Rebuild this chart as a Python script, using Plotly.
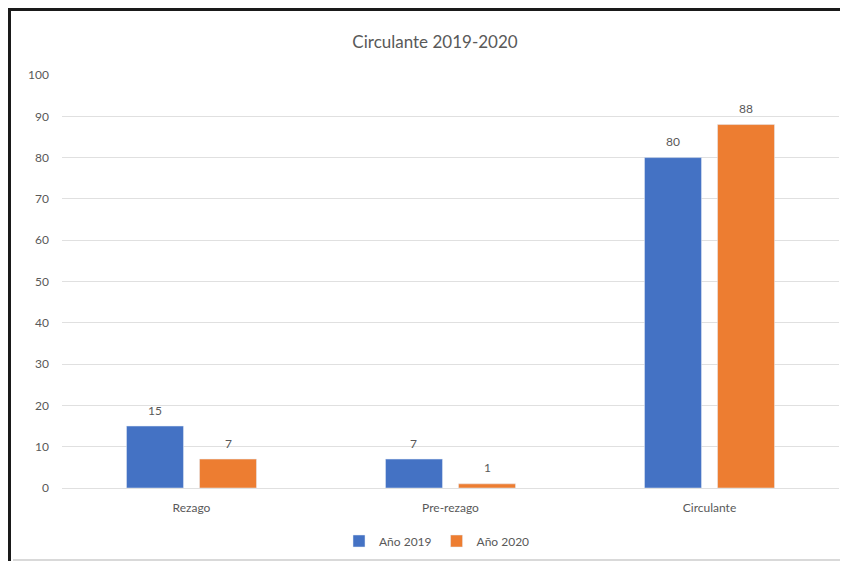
import plotly.graph_objects as go

categories = ["Rezago", "Pre-rezago", "Circulante"]
values_2019 = [15, 7, 80]
values_2020 = [7, 1, 88]
series_names = ["Año 2019", "Año 2020"]
tick_values = [0, 10, 20, 30, 40, 50, 60, 70, 80, 90, 100]

FONT = "Lato, 'Open Sans', sans-serif"
GRAY = "#595959"
COLORS = ["#4472C4", "#ED7D31"]

# the page body has an 8px default margin; coordinates below are screen pixels
OFF = 8
W, H = 848 - 2 * OFF, 569 - 2 * OFF
ml, mr, mt, mb = 62 - OFF, 1, 75 - OFF, H - (488 - OFF)
BARGAP, GROUPGAP = 0.436, 0.22

fig = go.Figure()
for name, vals, col in zip(series_names, [values_2019, values_2020], COLORS):
    fig.add_trace(go.Bar(name=name, x=categories, y=vals, marker=dict(color=col)))

pw = W - ml - mr
ph = H - mt - mb

def px_x(p):
    return (p - OFF - ml) / pw

def px_y(p):
    return (H - mb - (p - OFF)) / ph

# data labels, offset to each bar's slot within the group
cat_px = pw / len(categories)
slot_px = cat_px * (1 - BARGAP) / len(series_names)
annotations = []
for i, vals in enumerate([values_2019, values_2020]):
    shift = (i - (len(series_names) - 1) / 2) * slot_px
    for c, v in zip(categories, vals):
        annotations.append(dict(x=c, y=v, xref="x", yref="y", text=str(v), showarrow=False,
                                xshift=shift, yshift=16, yanchor="middle",
                                font=dict(size=12, color=GRAY, family=FONT)))

fig.update_layout(
    width=W, height=H,
    margin=dict(l=ml, r=mr, t=mt, b=mb),
    paper_bgcolor="white", plot_bgcolor="white",
    barmode="group", bargap=BARGAP, bargroupgap=GROUPGAP,
    title=dict(text="Circulante 2019-2020", x=(435 - OFF) / W, xanchor="center", xref="container",
               y=1 - (42 - OFF) / H, yref="container", yanchor="middle",
               font=dict(size=17, color=GRAY, family=FONT)),
    font=dict(family=FONT, color=GRAY, size=12),
    legend=dict(orientation="h", x=px_x(437), xanchor="center", y=px_y(541), yanchor="middle",
                font=dict(size=12, color=GRAY, family=FONT),
                itemwidth=30, traceorder="normal"),
    xaxis=dict(showgrid=False, showline=False, ticks="", ticklabelstandoff=11,
               tickfont=dict(size=12, color=GRAY, family=FONT)),
    yaxis=dict(range=[0, 100], tickvals=tick_values, showgrid=True,
               gridcolor="#E0E0E0", gridwidth=1, zeroline=True,
               zerolinecolor="#E0E0E0", zerolinewidth=1,
               ticks="", ticklabelstandoff=12,
               tickfont=dict(size=12, color=GRAY, family=FONT)),
    annotations=annotations,
    shapes=[
        dict(type="line", xref="paper", yref="paper",
             x0=px_x(9.5), x1=px_x(9.5), y0=px_y(8), y1=px_y(569),
             line=dict(color="#1a1a1a", width=3)),
        dict(type="line", xref="paper", yref="paper",
             x0=px_x(8), x1=px_x(848), y0=px_y(9.5), y1=px_y(9.5),
             line=dict(color="#1a1a1a", width=3)),
        dict(type="line", xref="paper", yref="paper",
             x0=px_x(13), x1=px_x(848), y0=px_y(560), y1=px_y(560),
             line=dict(color="#D9D9D9", width=2)),
    ],
)

fig.write_html("out.html")
